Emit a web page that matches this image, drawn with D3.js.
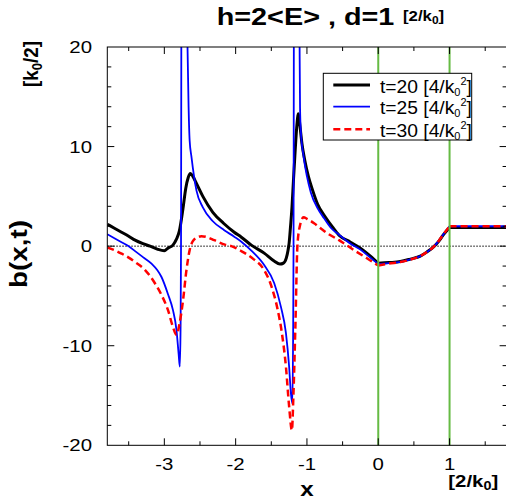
<!DOCTYPE html>
<html>
<head>
<meta charset="utf-8">
<script src="https://cdn.jsdelivr.net/npm/d3@7"></script>
<style>
  html, body { margin: 0; padding: 0; background: #fff; }
  svg { display: block; font-family: "Liberation Sans", Arial, Helvetica, sans-serif; }
</style>
</head>
<body>
<svg id="chart" width="506" height="504"></svg>
<script>
// ---------- data ----------
const xTicks = [-3, -2, -1, 0, 1];
const yTicks = [-20, -10, 0, 10, 20];
const vLines = [0, 1];
const seriesNames = ["t=20 [4/k", "t=25 [4/k", "t=30 [4/k"];

const x20 = [-3.80,-3.70,-3.60,-3.50,-3.41,-3.30,-3.20,-3.10,-3.00,-2.95,-2.88,-2.83,-2.79,-2.74,-2.70,-2.665,-2.635,-2.60,-2.55,-2.46,-2.32,-2.17,-2.02,-1.92,-1.78,-1.60,-1.46,-1.38,-1.33,-1.29,-1.265,-1.25,-1.23,-1.21,-1.19,-1.17,-1.145,-1.12,-1.10,-1.07,-1.03,-0.98,-0.92,-0.85,-0.74,-0.64,-0.55,-0.39,-0.25,-0.11,0.00,0.15,0.31,0.45,0.59,0.68,0.78,0.85,0.92,1.00,1.80];
const y20 = [2.2,1.8,1.4,1.0,0.6,0.25,0.0,-0.3,-0.47,-0.2,0.1,0.7,1.5,3.7,5.8,6.9,7.3,7.0,6.3,5.0,3.4,2.3,1.4,0.9,0.1,-0.7,-1.5,-1.8,-1.7,-1.2,-0.4,0.3,2.0,3.9,6.5,9.0,11.8,13.3,12.2,10.3,8.6,7.0,5.6,4.2,2.9,1.9,1.1,0.4,-0.2,-1.0,-1.72,-1.65,-1.55,-1.3,-1.0,-0.6,-0.05,0.5,1.2,1.88,1.88];

const x25 = [-3.80,-3.70,-3.60,-3.50,-3.41,-3.30,-3.18,-3.10,-3.04,-2.95,-2.88,-2.83,-2.80,-2.783,-2.772,-2.766,-2.762,-2.758,-2.72,-2.69,-2.675,-2.66,-2.645,-2.62,-2.55,-2.46,-2.32,-2.16,-2.02,-1.92,-1.78,-1.60,-1.46,-1.365,-1.295,-1.25,-1.225,-1.205,-1.195,-1.188,-1.184,-1.18,-1.14,-1.11,-1.103,-1.097,-1.085,-1.047,-1.00,-0.946,-0.85,-0.76,-0.666,-0.55,-0.39,-0.25,-0.154,0.00,0.15,0.31,0.45,0.59,0.68,0.78,0.85,0.92,1.00,1.80];
const y25 = [1.2,0.8,0.4,0.0,-0.5,-1.1,-1.75,-2.4,-3.1,-4.8,-6.4,-8.4,-10.8,-12.1,-8,0,20,40,60,30,20,14,10.6,9.0,5.6,3.9,2.5,1.6,0.95,0.45,-0.45,-1.9,-3.7,-6.1,-8.7,-12.1,-14.8,-15.8,-10,0,20,40,60,30,20,14,11.5,9.0,7.0,5.4,3.8,2.8,1.85,1.15,0.25,-0.35,-0.9,-1.8,-1.7,-1.58,-1.32,-1.0,-0.6,-0.05,0.55,1.25,2.0,2.0];

const x30 = [-3.80,-3.70,-3.60,-3.50,-3.41,-3.27,-3.13,-3.04,-2.95,-2.88,-2.83,-2.785,-2.737,-2.69,-2.645,-2.60,-2.53,-2.48,-2.40,-2.30,-2.15,-2.06,-1.92,-1.75,-1.60,-1.50,-1.41,-1.35,-1.295,-1.25,-1.211,-1.19,-1.162,-1.134,-1.10,-1.047,-1.00,-0.90,-0.80,-0.71,-0.55,-0.48,-0.34,-0.154,0.00,0.15,0.31,0.45,0.59,0.68,0.78,0.85,0.92,1.00,1.80];
const y30 = [-0.13,-0.4,-0.75,-1.15,-1.6,-2.4,-3.75,-4.9,-6.4,-8.1,-8.9,-7.7,-5.4,-2.4,-0.4,0.5,0.9,1.0,0.9,0.6,0.15,0.0,-0.5,-1.3,-2.4,-4.0,-6.4,-8.8,-12.1,-16.1,-18.5,-15,-8,0.0,2.0,2.9,2.75,2.3,1.75,1.27,0.6,0.27,-0.4,-1.24,-1.95,-1.75,-1.6,-1.35,-1.0,-0.6,-0.05,0.55,1.25,2.0,2.0];

// ---------- layout ----------
const svg = d3.select("#chart");
const x = d3.scaleLinear().domain([-3.8, 1.8]).range([107.3, 506.6]);
const y = d3.scaleLinear().domain([-20, 20]).range([445.3, 47]);
const [x0, x1] = x.range();
const [yb, yt] = y.range();

svg.append("defs").append("clipPath").attr("id", "clip")
  .append("rect").attr("x", x0).attr("y", yt).attr("width", x1 - x0).attr("height", yb - yt);

// zero dotted line
svg.append("line")
  .attr("x1", x0).attr("x2", x1).attr("y1", y(0)).attr("y2", y(0))
  .attr("stroke", "#000").attr("stroke-width", 1).attr("stroke-dasharray", "1.5,1.5");

// curves
const line = d3.line().x(d => x(d[0])).y(d => y(d[1])).curve(d3.curveMonotoneX);
function segments(xs, ys) {
  const pts = xs.map((v, i) => [v, ys[i]]);
  return [pts.filter(p => p[0] <= 0), pts.filter(p => p[0] >= 0 && p[0] <= 1), pts.filter(p => p[0] >= 1)];
}
const styles = [
  { xs: x20, ys: y20, color: "#000000", width: 3, dash: null },
  { xs: x25, ys: y25, color: "#0000ff", width: 1.8, dash: null },
  { xs: x30, ys: y30, color: "#ff0000", width: 2.5, dash: "7,4" }
];
const gCurves = svg.append("g").attr("clip-path", "url(#clip)");
styles.forEach(s => {
  segments(s.xs, s.ys).forEach(seg => {
    gCurves.append("path").datum(seg).attr("d", line)
      .attr("fill", "none").attr("stroke", s.color).attr("stroke-width", s.width)
      .attr("stroke-dasharray", s.dash).attr("stroke-linejoin", "round");
  });
});

// green vertical lines
vLines.forEach(v => {
  svg.append("line").attr("x1", x(v)).attr("x2", x(v)).attr("y1", yt).attr("y2", yb)
    .attr("stroke", "#66bb44").attr("stroke-width", 2);
});

// frame
svg.append("rect").attr("x", x0).attr("y", yt).attr("width", x1 - x0).attr("height", yb - yt)
  .attr("fill", "none").attr("stroke", "#000").attr("stroke-width", 1);

// ticks (inward)
const gT = svg.append("g").attr("stroke", "#000").attr("stroke-width", 1);
d3.range(-3.5, 1.8, 0.5).forEach(v => {
  const major = Math.abs(v - Math.round(v)) < 1e-6;
  const L = major ? 7 : 4;
  gT.append("line").attr("x1", x(v)).attr("x2", x(v)).attr("y1", yb).attr("y2", yb - L);
  gT.append("line").attr("x1", x(v)).attr("x2", x(v)).attr("y1", yt).attr("y2", yt + L);
});
d3.range(-18, 19, 2).forEach(v => {
  const major = v % 10 === 0;
  const L = major ? 7 : 4;
  gT.append("line").attr("x1", x0).attr("x2", x0 + L).attr("y1", y(v)).attr("y2", y(v));
  gT.append("line").attr("x1", x1).attr("x2", x1 - L).attr("y1", y(v)).attr("y2", y(v));
});

// text helper
function txt(s, px, py, o = {}) {
  return svg.append("text")
    .attr("transform", `translate(${px},${py}) ${o.rot ? "rotate(" + o.rot + ")" : ""} scale(${o.sx ?? 1.2},${o.sy ?? 1})`)
    .attr("text-anchor", o.anchor || "start")
    .attr("font-size", o.size || 17)
    .attr("font-weight", o.weight || "normal")
    .attr("fill", "#000")
    .text(s);
}

// tick labels
yTicks.forEach(v => txt(String(v), 92, y(v) + 6, { anchor: "end", size: 17 }));
xTicks.forEach(v => txt(String(v), x(v), 470, { anchor: "middle", size: 17 }));

// title
txt("h=2<E> , d=1", 216.7, 25, { size: 24, weight: "bold" });
const tUnit = txt("[2/k", 403, 21, { size: 14, weight: "bold" });
tUnit.append("tspan").attr("font-size", 10).attr("dy", 3).text("0");
tUnit.append("tspan").attr("dy", -3).text("]");

// x label
txt("x", 307, 496, { anchor: "middle", size: 21, weight: "bold", sx: 1.15 });
const xUnit = txt("[2/k", 448.3, 487, { size: 17, weight: "bold" });
xUnit.append("tspan").attr("font-size", 12).attr("dy", 3).text("0");
xUnit.append("tspan").attr("dy", -3).text("]");

// y label
txt("b(x,t)", 27, 254, { anchor: "middle", size: 20, weight: "bold", rot: -90, sx: 1, sy: 1.2 })
  .attr("textLength", 68).attr("lengthAdjust", "spacingAndGlyphs");
const yUnit = txt("[k", 38, 64, { anchor: "middle", size: 17, weight: "bold", rot: -90, sx: 1.1, sy: 1.2 });
yUnit.append("tspan").attr("font-size", 12).attr("dy", 3).text("0");
yUnit.append("tspan").attr("dy", -3).text("/2]");

// legend
const lg = { x: 323.3, y: 73.3, w: 148.4, h: 66.7 };
svg.append("rect").attr("x", lg.x).attr("y", lg.y).attr("width", lg.w).attr("height", lg.h)
  .attr("fill", "#fff").attr("stroke", "#000").attr("stroke-width", 1);
const rowsY = [85, 106.7, 129.3];
styles.forEach((s, i) => {
  const ry = rowsY[i];
  svg.append("line").attr("x1", 333.3).attr("x2", 370).attr("y1", ry).attr("y2", ry)
    .attr("stroke", s.color).attr("stroke-width", s.width).attr("stroke-dasharray", s.dash);
  const t = svg.append("text")
    .attr("transform", `translate(380,${ry + 7.5}) scale(1.1,1)`)
    .attr("font-size", 17.5).attr("fill", "#000");
  t.append("tspan").text(seriesNames[i]);
  t.append("tspan").attr("font-size", 10).attr("dy", 3).text("0");
  t.append("tspan").attr("font-size", 10).attr("dy", -11).text("2");
  t.append("tspan").attr("dy", 8).text("]");
});
</script>
</body>
</html>
